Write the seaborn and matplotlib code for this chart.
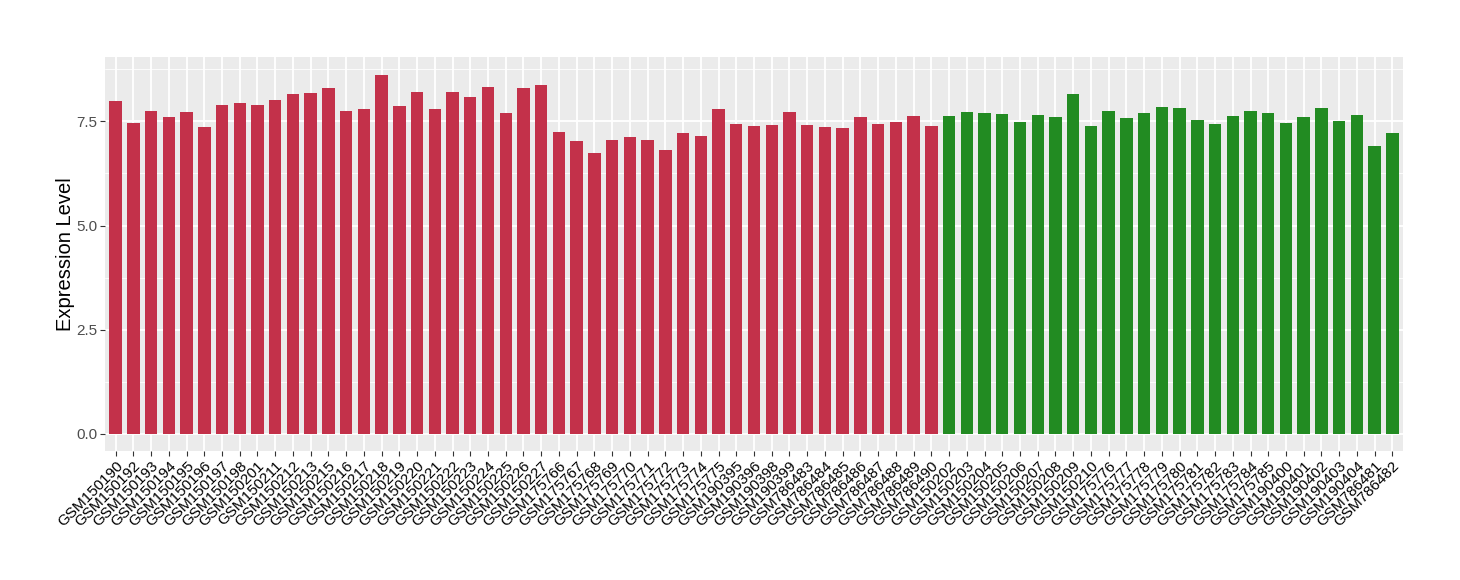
import matplotlib
matplotlib.use("Agg")
import matplotlib.pyplot as plt
import seaborn as sns
import pandas as pd
from matplotlib.ticker import MultipleLocator

red_samples = ["GSM150190", "GSM150192", "GSM150193", "GSM150194", "GSM150195", "GSM150196",
               "GSM150197", "GSM150198", "GSM150201", "GSM150211", "GSM150212", "GSM150213",
               "GSM150215", "GSM150216", "GSM150217", "GSM150218", "GSM150219", "GSM150220",
               "GSM150221", "GSM150222", "GSM150223", "GSM150224", "GSM150225", "GSM150226",
               "GSM150227", "GSM175766", "GSM175767", "GSM175768", "GSM175769", "GSM175770",
               "GSM175771", "GSM175772", "GSM175773", "GSM175774", "GSM175775", "GSM190395",
               "GSM190396", "GSM190398", "GSM190399", "GSM786483", "GSM786484", "GSM786485",
               "GSM786486", "GSM786487", "GSM786488", "GSM786489", "GSM786490"]
red_values = [7.99, 7.46, 7.75, 7.61, 7.73, 7.37, 7.90, 7.94, 7.90, 8.02, 8.16, 8.19,
              8.31, 7.75, 7.80, 8.62, 7.87, 8.21, 7.80, 8.21, 8.09, 8.33, 7.70, 8.31,
              8.38, 7.25, 7.03, 6.74, 7.06, 7.13, 7.06, 6.81, 7.22, 7.15, 7.80, 7.44,
              7.39, 7.42, 7.73, 7.42, 7.37, 7.34, 7.61, 7.44, 7.49, 7.63, 7.39]

green_samples = ["GSM150202", "GSM150203", "GSM150204", "GSM150205", "GSM150206", "GSM150207",
                 "GSM150208", "GSM150209", "GSM150210", "GSM175776", "GSM175777", "GSM175778",
                 "GSM175779", "GSM175780", "GSM175781", "GSM175782", "GSM175783", "GSM175784",
                 "GSM175785", "GSM190400", "GSM190401", "GSM190402", "GSM190403", "GSM190404",
                 "GSM786481", "GSM786482"]
green_values = [7.63, 7.73, 7.70, 7.68, 7.49, 7.66, 7.61, 8.16, 7.39, 7.75, 7.58, 7.70,
                7.85, 7.82, 7.54, 7.44, 7.63, 7.75, 7.70, 7.46, 7.61, 7.82, 7.51, 7.66,
                6.91, 7.22]

y_ticks = [0.0, 2.5, 5.0, 7.5]
y_tick_labels = ["0.0", "2.5", "5.0", "7.5"]

df = pd.DataFrame({
    "sample": red_samples + green_samples,
    "value": red_values + green_values,
    "group": ["A"] * len(red_samples) + ["B"] * len(green_samples),
})

sns.set_theme(style="darkgrid")
plt.rcParams["font.family"] = ["Liberation Sans", "DejaVu Sans"]

fig = plt.figure(figsize=(14.6, 5.8), dpi=100)
ax = fig.add_axes([105 / 1460, 1 - 451 / 580, (1403 - 105) / 1460, (451 - 57) / 580])

sns.barplot(data=df, x="sample", y="value", hue="group",
            palette={"A": "#C3314A", "B": "#228B22"}, dodge=False, width=0.7,
            legend=False, ax=ax, saturation=1, edgecolor="none", linewidth=0)

ax.set_facecolor("#EBEBEB")
ax.set_xlim(-0.6, len(df) - 0.4)
ax.set_ylim(-0.42, 9.05)
ax.set_yticks(y_ticks)
ax.set_yticklabels(y_tick_labels, fontsize=11, color="#4D4D4D")
ax.yaxis.set_minor_locator(MultipleLocator(1.25))
ax.grid(True, which="major", color="white", linewidth=1.3)
ax.grid(True, which="minor", axis="y", color="white", linewidth=0.6)
ax.set_axisbelow(True)
for s in ax.spines.values():
    s.set_visible(False)

ax.set_xticks(range(len(df)))
ax.set_xticklabels(df["sample"], rotation=45, ha="right", rotation_mode="anchor",
                   fontsize=11, color="black")
ax.tick_params(axis="both", which="major", length=3.5, width=0.8, color="#333333",
               bottom=True, left=True, pad=2)
ax.tick_params(axis="y", which="minor", length=0)
ax.set_xlabel("")
ax.set_ylabel("Expression Level", fontsize=14.5, color="black", labelpad=1)

fig.savefig("out.png", dpi=100)
